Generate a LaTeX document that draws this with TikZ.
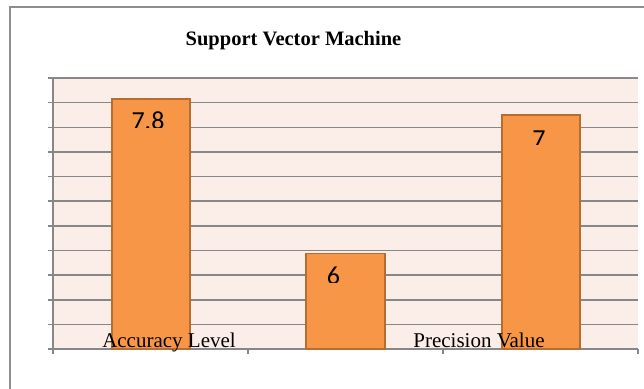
\documentclass[tikz,border=0pt]{standalone}
\usepackage{fontspec}
\setmainfont{Liberation Serif}
\newfontfamily\carl{Carlito}
\definecolor{gridc}{HTML}{878787}
\definecolor{framec}{HTML}{8E8E8E}
\definecolor{plotbg}{HTML}{FBEDE8}
\definecolor{barfill}{HTML}{F79646}
\definecolor{baredge}{HTML}{B66D31}
\tikzset{
  gridline/.style={draw=gridc, line width=1.5pt},
  barbox/.style={fill=barfill, draw=baredge, line width=1.2pt},
  catlabel/.style={anchor=base, inner sep=0pt, font=\fontsize{21}{25}\selectfont},
  vallabel/.style={anchor=base, inner sep=0pt, font=\carl\fontsize{26}{30}\selectfont},
}
\begin{document}
\begin{tikzpicture}[x=1pt,y=-1pt]
\useasboundingbox (0,0) rectangle (644,388);
\fill[white] (0,0) rectangle (644,388);
% outer frame (open to right and bottom)
\draw[framec, line width=2pt] (10,400) -- (10,7) -- (660,7);
% title
\node[anchor=base, inner sep=0pt, font=\bfseries\fontsize{20.5}{24}\selectfont] (title) at (293.5,45) {Support Vector Machine};
% plot area
\fill[plotbg] (53,78) rectangle (638,349);
\foreach \k in {0,...,10} {
  \draw[gridline] (48,{78+\k*24.64}) -- (638,{78+\k*24.64});
}
\draw[gridline] (48,349) -- (638,349);
\draw[gridline] (53,78) -- (53,354);
\foreach \xx in {248,443,638} {
  \draw[gridline] (\xx,349) -- (\xx,354);
}
% bars
\draw[barbox] (112,349) rectangle (190,99);
\draw[barbox] (306,349) rectangle (385,253.5);
\draw[barbox] (502,349) rectangle (580,115);
% value labels (clipped as in the reference)
\begin{scope}
  \clip (120,100) rectangle (180,127);
  \node[vallabel] (v1) at (148,129.4) {7.8};
\end{scope}
\begin{scope}
  \clip (310,255) rectangle (370,282);
  \node[vallabel] (v2) at (333.5,284.4) {6};
\end{scope}
\begin{scope}
  \clip (510,120) rectangle (570,144.5);
  \node[vallabel] (v3) at (539,147.4) {7};
\end{scope}
% category labels
\node[catlabel] (c1) at (169,347) {Accuracy Level};
\node[catlabel] (c2) at (479,347) {Precision Value};
\end{tikzpicture}
\end{document}
